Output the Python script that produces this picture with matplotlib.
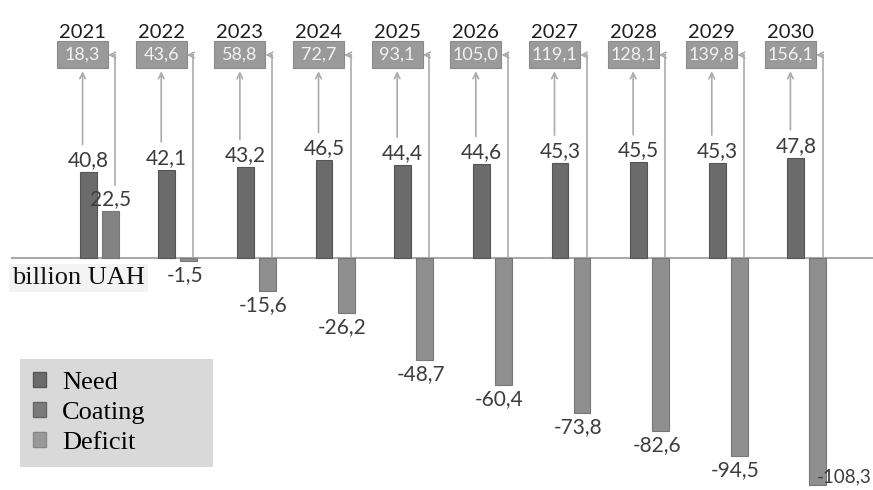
import matplotlib.pyplot as plt
from matplotlib.patches import Patch, Rectangle

# data (billion UAH)
years = [2021, 2022, 2023, 2024, 2025, 2026, 2027, 2028, 2029, 2030]
need = [40.8, 42.1, 43.2, 46.5, 44.4, 44.6, 45.3, 45.5, 45.3, 47.8]
balance = [22.5, -1.5, -15.6, -26.2, -48.7, -60.4, -73.8, -82.6, -94.5, -108.3]
total = [18.3, 43.6, 58.8, 72.7, 93.1, 105.0, 119.1, 128.1, 139.8, 156.1]

c_need = '#6b6b6b'
c_coat = '#838383'
c_def = '#8f8f8f'
c_box = '#9a9a9a'
c_line = '#ababab'
num_font = 'Lato'

fig = plt.figure(figsize=(8.73, 4.9), dpi=100)
ax = fig.add_axes([0, 0, 1, 1])
x_lo, x_hi = 2019.88, 2030.98
ax.set_xlim(x_lo, x_hi)
y_top, y_bot = 122.9, -110.5
ax.set_ylim(y_bot, y_top)
ax.axis('off')

px = 1 / 2.1  # one pixel in data units along y


def fmt(v):
    return ('%.1f' % v).replace('.', ',')


w = 0.215
off = 0.28
ax.bar(years, need, width=w, color=c_need, edgecolor='#555555', linewidth=0.8, zorder=3)
bal_x = [y + off for y in years]
bal_c = [c_coat if v > 0 else c_def for v in balance]
ax.bar(bal_x, balance, width=w, color=bal_c, edgecolor='#777777', linewidth=0.8, zorder=3)

# baseline
ax.plot([2020.03, x_hi], [0, 0], color=c_line, lw=1.5, zorder=2)

box_y = y_top - 55 * px
box_h = 27 * px
box_w = 0.65
for i, yr in enumerate(years):
    bx = yr - 0.07
    ax.add_patch(Rectangle((bx - box_w / 2, box_y - box_h / 2), box_w, box_h,
                           facecolor=c_box, edgecolor='#8a8a8a', lw=0.8, zorder=4))
    ax.text(bx, box_y, fmt(total[i]), ha='center', va='center', fontsize=13,
            color='#f2f2f2', family=num_font, zorder=5)
    ax.text(bx, y_top - 33 * px, str(yr), ha='center', va='center', fontsize=14.5,
            color='#1e1e1e', family=num_font, zorder=5)

    # need label and arrow up to the box
    ax.text(yr, need[i] + 12 * px, fmt(need[i]), ha='center', va='center', fontsize=15,
            color='#3c3c3c', family=num_font, zorder=5)
    ax.annotate('', xy=(yr - 0.07, box_y - box_h / 2), xytext=(yr - 0.07, need[i] + 25 * px),
                arrowprops=dict(arrowstyle='->', color=c_line, lw=1.2), zorder=4)

    # connector from second bar into the box
    lx = yr + off + 0.06
    y_end = balance[i] + 26 * px if balance[i] > 0 else 0
    ax.plot([lx, lx], [box_y, y_end], color=c_line, lw=1.2, zorder=2)
    ax.annotate('', xy=(bx + box_w / 2, box_y), xytext=(lx, box_y),
                arrowprops=dict(arrowstyle='->', color=c_line, lw=1.2, shrinkA=0, shrinkB=0),
                zorder=4)

    # second bar label
    v = balance[i]
    if v > 0:
        ax.text(yr + off, v + 12 * px, fmt(v), ha='center', va='center', fontsize=15,
                color='#3c3c3c', family=num_font, zorder=5)
    elif v < -100:
        ax.text(x_hi - 0.02, v + 4, fmt(v), ha='right', va='center', fontsize=13.5,
                color='#3c3c3c', family=num_font, zorder=5)
    else:
        ax.text(yr + off - 0.05, v - 14 * px, fmt(v), ha='center', va='center', fontsize=15,
                color='#3c3c3c', family=num_font, zorder=5)

ax.text(x_lo + 12 / 78.7, -16 * px - 2, 'billion UAH', ha='left', va='center',
        fontsize=19, family='Liberation Serif', color='#111111', zorder=5,
        bbox=dict(facecolor='#f3f3f3', edgecolor='none', pad=2))

handles = [Patch(facecolor=c_need, edgecolor='#555555'),
           Patch(facecolor='#7a7a7a', edgecolor='#666666'),
           Patch(facecolor='#9a9a9a', edgecolor='#888888')]
leg = fig.legend(handles, ['Need', 'Coating', 'Deficit'], loc='lower left',
                 bbox_to_anchor=(0.023, 0.047, 0.221, 0.222), mode='expand',
                 prop={'family': 'Liberation Serif', 'size': 19},
                 handlelength=0.5, handleheight=0.5, handletextpad=0.6,
                 labelspacing=0.3, borderpad=0.5, borderaxespad=0,
                 frameon=True, fancybox=False)
leg.get_frame().set_facecolor('#d9d9d9')
leg.get_frame().set_edgecolor('none')
leg.get_frame().set_alpha(1)

fig.savefig('out.png', dpi=100, facecolor='white')
